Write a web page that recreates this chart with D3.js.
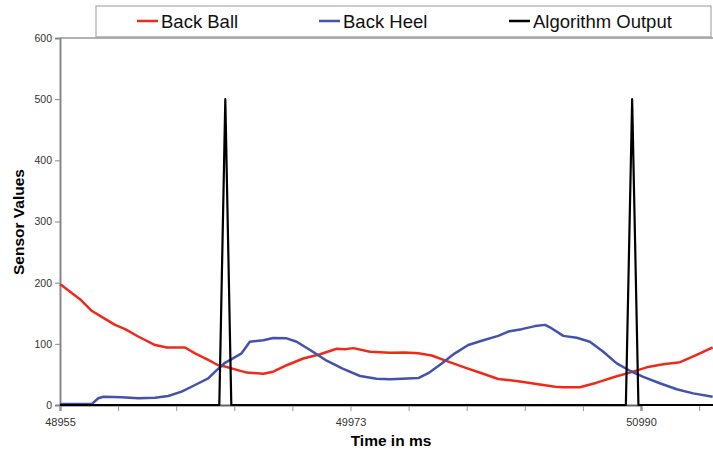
<!DOCTYPE html>
<html lang="en">
<head>
  <meta charset="utf-8">
  <script src="https://d3js.org/d3.v7.min.js"></script>
  <style>
    body { margin: 0; background: #fff; }
    text { font-family: "Liberation Sans", Arial, sans-serif; }
  </style>
</head>
<body>
  <svg id="chart" width="713" height="452"></svg>

  <script>
    // time (ms) and sensor readings
    const ballTime = [48955, 48963, 48996, 49025, 49066, 49101, 49148, 49183, 49229, 49288, 49329, 49393,
      49428, 49474, 49509, 49533, 49562, 49609, 49667, 49702, 49749, 49807, 49866, 49924, 49953, 49982,
      50041, 50111, 50163, 50210, 50257, 50315, 50374, 50432, 50490, 50560, 50630, 50689, 50718, 50776,
      50835, 50905, 50951, 51010, 51068, 51127, 51185, 51241];
    const ballValues = [197, 195, 183, 173, 154, 144, 131, 124, 112, 98, 94, 94,
      84.5, 73.6, 65, 63, 59, 53, 51, 54.5, 65, 76, 83, 92, 91, 93,
      87, 85.5, 86, 84.5, 81, 71, 61, 52, 42.5, 39, 34, 30, 29, 29,
      36.5, 47, 53, 61.6, 66.5, 70, 82, 94];

    const heelTime = [48955, 49031, 49066, 49089, 49107, 49171, 49229, 49288, 49334, 49381, 49428, 49474,
      49504, 49533, 49591, 49620, 49667, 49702, 49749, 49784, 49831, 49889, 49947, 50006, 50064, 50111,
      50152, 50210, 50245, 50292, 50338, 50385, 50432, 50490, 50525, 50572, 50619, 50654, 50671, 50718,
      50765, 50811, 50858, 50905, 50951, 50998, 51056, 51115, 51173, 51241];
    const heelValues = [1.5, 1.5, 1.5, 11, 13.6, 12.5, 11, 12, 14.7, 21.8, 32.7, 43.6,
      57, 69, 84.5, 103.5, 106, 109.5, 109, 103.5, 90, 72.4, 59, 47.4, 43, 42,
      43, 44, 52, 68, 84.5, 98, 105, 113, 120, 124, 129, 131, 127, 113,
      110, 103.5, 87, 68, 56, 46, 35.5, 25.7, 19, 13.6];

    const outTime = [48955, 49513, 49534, 49555, 50937, 50959, 50981, 51250];
    const outValues = [0, 0, 500, 0, 0, 500, 0, 0];

    const yTicks = [0, 100, 200, 300, 400, 500, 600];
    const xTickStart = 48955;
    const xTickStep = 203.5;
    const xTickCount = 12;
    const xTickLabels = ["48955", "49973", "50990"]; // every 5th tick

    const seriesNames = ["Back Ball", "Back Heel", "Algorithm Output"];
    const seriesColors = ["#f02a1a", "#4352ad", "#000000"];

    const svg = d3.select("#chart");

    const x = d3.scaleLinear().domain([48955, 50990]).range([60, 641]);
    const y = d3.scaleLinear().domain([0, 600]).range([405, 38]);

    // plot frame: top border
    svg.append("line")
      .attr("x1", 60).attr("x2", 713)
      .attr("y1", y(600)).attr("y2", y(600))
      .attr("stroke", "#999").attr("stroke-width", 1.5);

    // y axis
    const yAxis = svg.append("g")
      .attr("transform", "translate(60,0)")
      .call(d3.axisLeft(y).tickValues(yTicks).tickSize(5).tickPadding(3));
    yAxis.select(".domain").attr("stroke", "#888").attr("stroke-width", 2);
    yAxis.selectAll(".tick line").attr("stroke", "#888");
    yAxis.selectAll(".tick text")
      .attr("fill", "#333").attr("font-size", 10.5)
      .style("font-family", "Liberation Sans, Arial, sans-serif");

    // x axis
    const xTickVals = d3.range(xTickCount).map(k => xTickStart + k * xTickStep);
    const xAxis = svg.append("g")
      .attr("transform", "translate(0,405)")
      .call(d3.axisBottom(x).tickValues(xTickVals).tickSize(6).tickPadding(7)
        .tickFormat((d, i) => i % 5 === 0 ? xTickLabels[i / 5] : ""));
    xAxis.select(".domain").attr("stroke", "#666").attr("stroke-width", 2);
    xAxis.selectAll(".tick line").attr("stroke", "#999");
    xAxis.selectAll(".tick text")
      .attr("fill", "#333").attr("font-size", 11)
      .style("font-family", "Liberation Sans, Arial, sans-serif");

    // lines
    const line = d3.line().x(d => x(d[0])).y(d => y(d[1]));
    const series = [
      d3.zip(ballTime, ballValues),
      d3.zip(heelTime, heelValues),
      d3.zip(outTime, outValues)
    ];

    svg.append("g")
      .selectAll("path")
      .data(series)
      .join("path")
      .attr("fill", "none")
      .attr("stroke", (d, i) => seriesColors[i])
      .attr("stroke-width", (d, i) => i === 2 ? 2.2 : 2.5)
      .attr("stroke-linejoin", "round")
      .attr("d", line);

    // axis titles
    svg.append("text")
      .attr("transform", "translate(24,222) rotate(-90)")
      .attr("text-anchor", "middle")
      .attr("font-size", 15.5).attr("font-weight", "bold")
      .text("Sensor Values");

    svg.append("text")
      .attr("x", 391).attr("y", 446)
      .attr("text-anchor", "middle")
      .attr("font-size", 15.5).attr("font-weight", "bold")
      .text("Time in ms");

    // legend
    const lgd = svg.append("g");
    lgd.append("rect")
      .attr("x", 96).attr("y", 6)
      .attr("width", 615).attr("height", 31)
      .attr("fill", "#fff")
      .attr("stroke", "#999").attr("stroke-width", 1);
    lgd.append("line")
      .attr("x1", 97).attr("x2", 712).attr("y1", 37.5).attr("y2", 37.5)
      .attr("stroke", "#aaa").attr("stroke-width", 2);

    const legendX = [137, 319, 509];
    const items = lgd.selectAll("g.item")
      .data(seriesNames)
      .join("g")
      .attr("class", "item")
      .attr("transform", (d, i) => "translate(" + legendX[i] + ",21)");
    items.append("line")
      .attr("x1", 0).attr("x2", 21)
      .attr("stroke", (d, i) => seriesColors[i])
      .attr("stroke-width", 2.5);
    items.append("text")
      .attr("x", 24).attr("y", 6.5)
      .attr("font-size", 18.5)
      .attr("fill", "#111")
      .text(d => d);
  </script>
</body>
</html>
